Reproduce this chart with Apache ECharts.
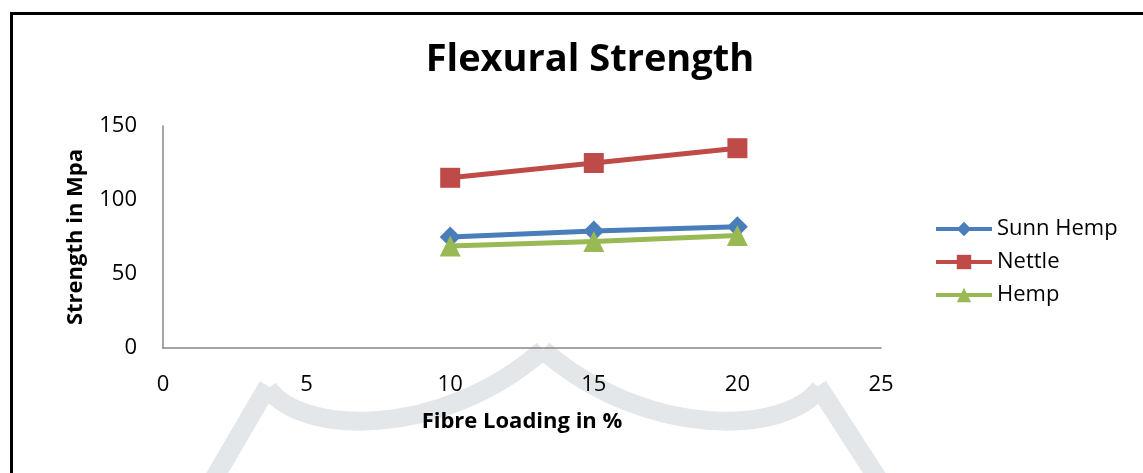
<!DOCTYPE html>
<html>
<head>
<meta charset="utf-8">
<style>
  html, body { margin: 0; padding: 0; background: #fff; }
  #chart { width: 1143px; height: 473px; }
</style>
<script src="https://cdn.jsdelivr.net/npm/echarts@6/dist/echarts.min.js"></script>
</head>
<body>
<div id="chart"></div>
<script>
// Fibre loading (%) on the x axis
const fibreLoading = [10, 15, 20];
// Flexural strength (MPa) per fibre type
const sunnHemp = [75, 79, 82];
const nettle = [115, 125, 135];
const hemp = [69, 72, 76];
const seriesNames = ['Sunn Hemp', 'Nettle', 'Hemp'];

const FONT = '"Open Sans", sans-serif';

function pairs(vals) {
  return fibreLoading.map((x, i) => [x, vals[i]]);
}

const chart = echarts.init(document.getElementById('chart'));

const wmStyle = { stroke: '#e3e7ea', lineWidth: 19, fill: null, lineCap: 'butt', lineJoin: 'miter' };

chart.setOption({
  animation: false,
  backgroundColor: '#fff',
  title: {
    text: 'Flexural Strength',
    left: 585,
    textAlign: 'center',
    top: 36,
    textStyle: { fontFamily: FONT, fontWeight: 'bold', fontSize: 38, color: '#000' }
  },
  graphic: [
    // outer frame
    { type: 'rect', z: 100, shape: { x: 11.5, y: 13.5, width: 1300, height: 700 },
      style: { stroke: '#000', lineWidth: 3, fill: null } },
    // light shield outline in the background
    { type: 'line', z: -10, shape: { x1: 212, y1: 482, x2: 268, y2: 386 }, style: wmStyle },
    { type: 'bezierCurve', z: -10,
      shape: { x1: 268, y1: 388, cpx1: 300, cpy1: 435, cpx2: 440, cpy2: 440, x2: 543, y2: 350 },
      style: wmStyle },
    { type: 'bezierCurve', z: -10,
      shape: { x1: 543, y1: 350, cpx1: 646, cpy1: 440, cpx2: 786, cpy2: 435, x2: 820, y2: 388 },
      style: wmStyle },
    { type: 'line', z: -10, shape: { x1: 818, y1: 386, x2: 880, y2: 482 }, style: wmStyle }
  ],
  legend: {
    orient: 'vertical',
    left: 929,
    top: 213,
    itemWidth: 56,
    itemHeight: 18,
    itemGap: 11,
    data: seriesNames,
    lineStyle: { width: 4 },
    textStyle: { fontFamily: FONT, fontSize: 22, color: '#000' }
  },
  grid: { left: 163, right: 262, top: 126, bottom: 125, containLabel: false },
  xAxis: {
    type: 'value',
    min: 0, max: 25, interval: 5,
    name: 'Fibre Loading in %',
    nameLocation: 'middle',
    nameGap: 63,
    nameTextStyle: { fontFamily: FONT, fontWeight: 'bold', fontSize: 22, color: '#000' },
    axisLine: { lineStyle: { color: '#868686', width: 1.5 } },
    axisTick: { show: false },
    splitLine: { show: false },
    axisLabel: { fontFamily: FONT, fontSize: 22, color: '#000', margin: 26 }
  },
  yAxis: {
    type: 'value',
    min: 0, max: 150, interval: 50,
    name: 'Strength in Mpa',
    nameLocation: 'middle',
    nameGap: 76,
    nameTextStyle: { fontFamily: FONT, fontWeight: 'bold', fontSize: 22, color: '#000' },
    axisLine: { show: true, lineStyle: { color: '#868686', width: 1.5 } },
    axisTick: { show: false },
    splitLine: { show: false },
    axisLabel: { fontFamily: FONT, fontSize: 22, color: '#000', margin: 26 }
  },
  series: [
    { name: seriesNames[0], type: 'line', data: pairs(sunnHemp),
      symbol: 'diamond', symbolSize: 21, color: '#4a7ebb',
      lineStyle: { width: 5, color: '#4a7ebb' }, itemStyle: { color: '#4a7ebb' } },
    { name: seriesNames[1], type: 'line', data: pairs(nettle),
      symbol: 'rect', symbolSize: 20, color: '#be4b48',
      lineStyle: { width: 5, color: '#be4b48' }, itemStyle: { color: '#be4b48' } },
    { name: seriesNames[2], type: 'line', data: pairs(hemp),
      symbol: 'triangle', symbolSize: 21, color: '#98b954',
      lineStyle: { width: 5, color: '#98b954' }, itemStyle: { color: '#98b954' } }
  ]
});
</script>
</body>
</html>
